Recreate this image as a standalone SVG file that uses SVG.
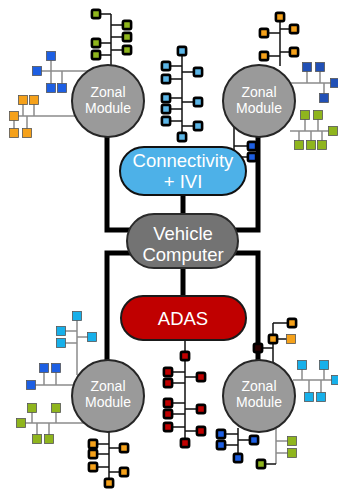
<svg xmlns="http://www.w3.org/2000/svg" xmlns:xlink="http://www.w3.org/1999/xlink" width="338" height="489" viewBox="0 0 338 489">
<style>
.tk{stroke:#000;stroke-width:5;fill:none}
.lb{stroke:#111;stroke-width:1.5;fill:none}
.lg{stroke:#8c8c8c;stroke-width:1.5;fill:none}
.zm{fill:#9a9a9a;stroke:#262626;stroke-width:2}
.zt{font-family:"Liberation Sans",Arial,sans-serif;font-size:14px;fill:#fff;text-anchor:middle}
.pt{font-family:"Liberation Sans",Arial,sans-serif;font-size:18.5px;fill:#fff;text-anchor:middle}
.g{fill:#8fb51d}.o{fill:#f5a11a}.c{fill:#17b0ea}.lbf{fill:#5bb5e6}.bl{fill:#1d5fe3}.db{fill:#2150b6}.r{fill:#c00000}.k{fill:#2a0000}
</style>
<defs>
<rect id="B" x="-4.1" y="-4.1" width="8.2" height="8.2" rx="1.6" stroke="#000" stroke-width="2.6"/>
<rect id="T" x="-4.5" y="-4.5" width="9" height="9" stroke="#555" stroke-width="0.8"/>
</defs>
<rect width="338" height="489" fill="#fff"/>

<g id="sensors-tl-green">
<path class="lb" d="M111 14V65M96 14H111M111 25H127M111 37H127M111 50H127M96 43H111M96 55H111"/>
<use xlink:href="#B" x="96" y="14" class="g"/><use xlink:href="#B" x="127" y="25" class="g"/><use xlink:href="#B" x="127" y="37" class="g"/><use xlink:href="#B" x="127" y="50" class="g"/><use xlink:href="#B" x="96" y="43" class="g"/><use xlink:href="#B" x="96" y="55" class="g"/>
</g>
<g id="sensors-tl-blue">
<path class="lg" d="M37 71H90M51 56V88M62 71V88"/>
<use xlink:href="#T" x="51" y="56" class="bl"/><use xlink:href="#T" x="37" y="71" class="bl"/><use xlink:href="#T" x="51" y="88" class="bl"/><use xlink:href="#T" x="62" y="88" class="bl"/>
</g>
<g id="sensors-tl-orange">
<path class="lg" d="M14 116H80M23 100V116M34 100V116M14 116V133M27 116V133"/>
<use xlink:href="#T" x="23" y="100" class="o"/><use xlink:href="#T" x="34" y="100" class="o"/><use xlink:href="#T" x="14" y="116" class="o"/><use xlink:href="#T" x="14" y="133" class="o"/><use xlink:href="#T" x="27" y="133" class="o"/>
</g>
<g id="sensors-center-lightblue">
<path class="lb" d="M182 51V137M166 66H182M166 79H182M166 98H182M166 109H182M166 121H182M182 72H198M182 102H198M182 126H198"/>
<use xlink:href="#B" x="182" y="51" class="lbf"/><use xlink:href="#B" x="182" y="137" class="lbf"/>
<use xlink:href="#B" x="166" y="66" class="lbf"/><use xlink:href="#B" x="166" y="79" class="lbf"/><use xlink:href="#B" x="166" y="98" class="lbf"/><use xlink:href="#B" x="166" y="109" class="lbf"/><use xlink:href="#B" x="166" y="121" class="lbf"/>
<use xlink:href="#B" x="198" y="72" class="lbf"/><use xlink:href="#B" x="198" y="102" class="lbf"/><use xlink:href="#B" x="198" y="126" class="lbf"/>
</g>
<g id="sensors-tr-orange">
<path class="lb" d="M280 17V66M280 29H294M280 52H294M264 33H280M264 56H280"/>
<use xlink:href="#B" x="280" y="17" class="o"/><use xlink:href="#B" x="294" y="29" class="o"/><use xlink:href="#B" x="294" y="52" class="o"/><use xlink:href="#B" x="264" y="33" class="o"/><use xlink:href="#B" x="264" y="56" class="o"/>
</g>
<g id="sensors-tr-darkblue">
<path class="lg" d="M290 83H335M307 67V83M320 67V83M324 83V98"/>
<use xlink:href="#T" x="307" y="67" class="db"/><use xlink:href="#T" x="320" y="67" class="db"/><use xlink:href="#T" x="335" y="83" class="db"/><use xlink:href="#T" x="324" y="98" class="db"/>
</g>
<g id="sensors-tr-green">
<path class="lg" d="M290 131H333M305 115V131M318 115V131M299 131V145M311 131V145M322 131V145"/>
<use xlink:href="#T" x="305" y="115" class="g"/><use xlink:href="#T" x="318" y="115" class="g"/><use xlink:href="#T" x="333" y="131" class="g"/><use xlink:href="#T" x="299" y="145" class="g"/><use xlink:href="#T" x="311" y="145" class="g"/><use xlink:href="#T" x="322" y="145" class="g"/>
</g>
<g id="sensors-tr-blue">
<path class="lb" d="M234 120V160M234 146H252M234 157H252"/>
<use xlink:href="#B" x="252" y="146" class="bl"/><use xlink:href="#B" x="252" y="157" class="bl"/>
</g>
<g id="sensors-center-red">
<path class="lb" d="M185 340V443M168 372H185M168 383H185M168 403H185M168 414H185M168 427H185M185 377H201M185 409H201M185 431H201"/>
<use xlink:href="#B" x="185" y="356" class="r"/><use xlink:href="#B" x="185" y="443" class="r"/>
<use xlink:href="#B" x="168" y="372" class="r"/><use xlink:href="#B" x="168" y="383" class="r"/><use xlink:href="#B" x="168" y="403" class="r"/><use xlink:href="#B" x="168" y="414" class="r"/><use xlink:href="#B" x="168" y="427" class="r"/>
<use xlink:href="#B" x="201" y="377" class="r"/><use xlink:href="#B" x="201" y="409" class="r"/><use xlink:href="#B" x="201" y="431" class="r"/>
</g>
<g id="sensors-bl-cyan">
<path class="lg" d="M77 316V375M61 331H77M61 343H77M77 337H92"/>
<use xlink:href="#T" x="77" y="316" class="c"/><use xlink:href="#T" x="61" y="331" class="c"/><use xlink:href="#T" x="61" y="343" class="c"/><use xlink:href="#T" x="92" y="337" class="c"/>
</g>
<g id="sensors-bl-blue">
<path class="lg" d="M31 385H80M44 368V385M56 368V385"/>
<use xlink:href="#T" x="44" y="368" class="bl"/><use xlink:href="#T" x="56" y="368" class="bl"/><use xlink:href="#T" x="31" y="385" class="bl"/>
</g>
<g id="sensors-bl-green">
<path class="lg" d="M21 423H85M32 408V423M56 408V423M37 423V439M49 423V439"/>
<use xlink:href="#T" x="32" y="408" class="g"/><use xlink:href="#T" x="56" y="408" class="g"/><use xlink:href="#T" x="21" y="423" class="g"/><use xlink:href="#T" x="37" y="439" class="g"/><use xlink:href="#T" x="49" y="439" class="g"/>
</g>
<g id="sensors-bl-orange">
<path class="lb" d="M109 428V483M93 444H109M93 454H109M93 467H109M109 448H124M109 472H124"/>
<use xlink:href="#B" x="93" y="444" class="o"/><use xlink:href="#B" x="93" y="454" class="o"/><use xlink:href="#B" x="93" y="467" class="o"/><use xlink:href="#B" x="124" y="448" class="o"/><use xlink:href="#B" x="124" y="472" class="o"/><use xlink:href="#B" x="109" y="483" class="o"/>
</g>
<g id="sensors-br-cyan">
<path class="lg" d="M293 380H336M302 365V380M324 365V380M309 380V397M321 380V397"/>
<use xlink:href="#T" x="302" y="365" class="c"/><use xlink:href="#T" x="324" y="365" class="c"/><use xlink:href="#T" x="309" y="397" class="c"/><use xlink:href="#T" x="321" y="397" class="c"/><use xlink:href="#T" x="336" y="380" class="c"/>
</g>
<g id="sensors-br-blue">
<path class="lb" d="M238 428V458M221 434H238M221 445H238M238 440H254"/>
<use xlink:href="#B" x="221" y="434" class="bl"/><use xlink:href="#B" x="221" y="445" class="bl"/><use xlink:href="#B" x="254" y="440" class="bl"/><use xlink:href="#B" x="238" y="458" class="bl"/>
</g>
<g id="sensors-br-green">
<path class="lg" d="M276 428V464M276 441H292M276 453H292"/>
<path class="lb" d="M261 464H276"/>
<use xlink:href="#T" x="292" y="441" class="g"/><use xlink:href="#T" x="292" y="453" class="g"/><use xlink:href="#B" x="261" y="464" class="g"/>
</g>

<g id="connectors">
<path class="tk" d="M107 137V230H132"/>
<path class="tk" d="M258 137V230H234"/>
<path class="tk" d="M132 253H107V362"/>
<path class="tk" d="M234 253H258V362"/>
<path class="tk" d="M183 193V216"/>
<path class="tk" d="M183 266V298"/>
</g>

<g id="sensors-br-orange">
<path class="lb" d="M273 323V362M258 348H273M273 323H292M273 339H291"/>
<use xlink:href="#B" x="258" y="348" class="k"/>
<use xlink:href="#B" x="273" y="339" class="o"/><use xlink:href="#T" x="291" y="339" class="o"/><use xlink:href="#B" x="292" y="323" class="o"/>
</g>

<g id="zonal-tl"><circle class="zm" cx="108" cy="101" r="36"/><text class="zt" x="108" y="97">Zonal</text><text class="zt" x="108" y="113">Module</text></g>
<g id="zonal-tr"><circle class="zm" cx="259" cy="101" r="36"/><text class="zt" x="259" y="97">Zonal</text><text class="zt" x="259" y="113">Module</text></g>
<g id="zonal-bl"><circle class="zm" cx="108" cy="396" r="36"/><text class="zt" x="108" y="391">Zonal</text><text class="zt" x="108" y="407">Module</text></g>
<g id="zonal-br"><circle class="zm" cx="259" cy="396" r="36"/><text class="zt" x="259" y="391">Zonal</text><text class="zt" x="259" y="407">Module</text></g>

<g id="connectivity-ivi"><rect x="120" y="147" width="126" height="48" rx="24" fill="#4db1e8" stroke="#111" stroke-width="2"/><text class="pt" x="183" y="167">Connectivity</text><text class="pt" x="183" y="188">+ IVI</text></g>
<g id="vehicle-computer"><rect x="127" y="214" width="111" height="54" rx="27" fill="#737373" stroke="#2a2a2a" stroke-width="2"/><text class="pt" x="183" y="240">Vehicle</text><text class="pt" x="183" y="261">Computer</text></g>
<g id="adas"><rect x="121" y="296" width="125" height="44" rx="22" fill="#c00000" stroke="#1a1a1a" stroke-width="2"/><text class="pt" x="183" y="325">ADAS</text></g>
</svg>
